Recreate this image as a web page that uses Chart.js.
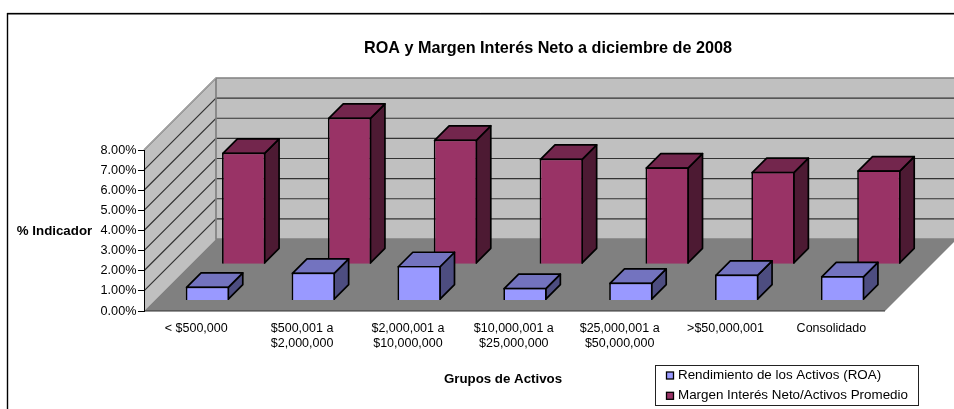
<!DOCTYPE html>
<html><head><meta charset="utf-8">
<style>html,body{margin:0;padding:0;background:#fff}canvas{display:block}</style>
<script src="https://cdn.jsdelivr.net/npm/chart.js@4/dist/chart.umd.min.js"></script>
</head><body><canvas id="c" width="954" height="409"></canvas>
<script>
const categories = [['< $500,000'], ['$500,001 a', '$2,000,000'], ['$2,000,001 a', '$10,000,000'], ['$10,000,001 a', '$25,000,000'], ['$25,000,001 a', '$50,000,000'], ['>$50,000,001'], ['Consolidado']];
const roa = [0.69, 1.39, 1.72, 0.63, 0.89, 1.29, 1.22];
const margen = [5.55, 7.29, 6.20, 5.25, 4.82, 4.59, 4.67];
const seriesNames = ['Rendimiento de los Activos (ROA)', 'Margen Interés Neto/Activos Promedio'];
const chartTitle = 'ROA y Margen Interés Neto a diciembre de 2008';
const yTitle = '% Indicador';
const xTitle = 'Grupos de Activos';

const FONT = '"Liberation Sans", Arial, sans-serif';
const SIZE = 12.5;
const WALL_DEPTH = 72;
const BAR_Z = [10.5, 46.8];
const BAR_DEPTH = 14.5;
const BAR_LINE = 1.7;
const COLORS = [
  {front:'#9999ff', top:'#7373bf', side:'#4d4d80'},
  {front:'#993366', top:'#73264d', side:'#4d1a33'}
];

function poly(ctx, pts, fill, stroke, lw){
  ctx.beginPath();
  pts.forEach((p,i)=> i?ctx.lineTo(p[0],p[1]):ctx.moveTo(p[0],p[1]));
  ctx.closePath();
  if(fill){ctx.fillStyle=fill;ctx.fill();}
  if(stroke){ctx.strokeStyle=stroke;ctx.lineWidth=lw||1;ctx.lineJoin='round';ctx.stroke();}
}
function text(ctx,str,x,y,font,align){
  ctx.font=font;ctx.fillStyle='#000';ctx.textAlign=align||'center';ctx.textBaseline='middle';ctx.fillText(str,x,y);
}

const scene3d = {
  id:'scene3d',
  afterDatasetsUpdate(chart){
    chart.data.datasets.forEach((ds,i)=>{
      chart.getDatasetMeta(i).data.forEach(el=>{
        el.x += BAR_Z[i]; el.y -= BAR_Z[i]; el.base -= BAR_Z[i];
      });
    });
  },
  beforeDraw(chart){
    const ctx=chart.ctx, a=chart.chartArea, d=WALL_DEPTH, y=chart.scales.y;
    ctx.save();
    poly(ctx,[[a.left+d,a.top-d],[a.right+d,a.top-d],[a.right+d,a.bottom-d],[a.left+d,a.bottom-d]],'#c0c0c0');
    poly(ctx,[[a.left,a.bottom],[a.left+d,a.bottom-d],[a.left+d,a.top-d],[a.left,a.top]],'#c0c0c0');
    y.ticks.forEach(t=>{
      const py=y.getPixelForValue(t.value);
      if(t.value===0) return;
      const atTop=t.value===y.max;
      ctx.strokeStyle=atTop?'#808080':'#333333';ctx.lineWidth=atTop?1.7:1.2;
      ctx.beginPath();ctx.moveTo(a.left,py);ctx.lineTo(a.left+d,py-d);ctx.lineTo(a.right+d,py-d);ctx.stroke();
    });
    poly(ctx,[[a.left,a.bottom],[a.right,a.bottom],[a.right+d,a.bottom-d],[a.left+d,a.bottom-d]],'#808080');
    ctx.strokeStyle='#808080';ctx.lineWidth=1.7;
    ctx.beginPath();ctx.moveTo(a.left+d,a.top-d);ctx.lineTo(a.left+d,a.bottom-d);ctx.lineTo(a.right+d,a.bottom-d);ctx.stroke();
    ctx.strokeStyle='#a0a0a0';ctx.lineWidth=1;
    ctx.beginPath();ctx.moveTo(a.left,a.top);ctx.lineTo(a.left+d,a.top-d);ctx.stroke();
    ctx.strokeStyle='#333333';ctx.lineWidth=1.2;
    ctx.beginPath();ctx.moveTo(a.left,a.bottom);ctx.lineTo(a.right,a.bottom);ctx.stroke();
    ctx.strokeStyle='#dcdcdc';ctx.lineWidth=1;
    ctx.beginPath();ctx.moveTo(7,12.5);ctx.lineTo(954,12.5);ctx.stroke();
    ctx.strokeStyle='#000';ctx.lineWidth=1.4;
    ctx.beginPath();ctx.moveTo(7.5,409);ctx.lineTo(7.5,13.7);ctx.lineTo(954,13.7);ctx.stroke();
    ctx.restore();
  },
  beforeDatasetDraw(chart,args){
    const ctx=chart.ctx, c=COLORS[args.index], z=BAR_DEPTH, h=BAR_LINE/2;
    ctx.save();
    args.meta.data.forEach(el=>{
      const l=el.x-el.width/2+h, r=el.x+el.width/2-h, t=el.y+h, b=el.base-h;
      poly(ctx,[[r,t],[r+z,t-z],[r+z,b-z],[r,b]],c.side,'#000',BAR_LINE);
      poly(ctx,[[l,t],[l+z,t-z],[r+z,t-z],[r,t]],c.top,'#000',BAR_LINE);
    });
    ctx.restore();
  },
  afterDraw(chart){
    const ctx=chart.ctx;
    ctx.save();
    text(ctx,chartTitle,548,48.5,'bold 16.2px '+FONT);
    text(ctx,yTitle,54.5,231,'bold 13.3px '+FONT);
    text(ctx,xTitle,503,379,'bold 13.3px '+FONT);
    ctx.fillStyle='#fff';ctx.strokeStyle='#222';ctx.lineWidth=1;
    ctx.fillRect(655.5,365.5,263,40);ctx.strokeRect(655.5,365.5,263,40);
    seriesNames.forEach((n,i)=>{
      const ly=375.5+i*20.3;
      ctx.fillStyle=COLORS[i].front;ctx.fillRect(666.5,ly-3.5,7,7);
      ctx.strokeStyle='#000';ctx.lineWidth=1.3;ctx.strokeRect(666.5,ly-3.5,7,7);
      text(ctx,n,678,ly,'13.4px '+FONT,'left');
    });
    ctx.restore();
  }
};

new Chart(document.getElementById('c'),{
  type:'bar',
  data:{labels:categories,datasets:[
    {label:seriesNames[0],data:roa},
    {label:seriesNames[1],data:margen}
  ].map((ds,i)=>Object.assign(ds,{
    backgroundColor:COLORS[i].front,borderColor:'#000',borderWidth:BAR_LINE,
    grouped:false,barPercentage:0.41,categoryPercentage:1,clip:false
  }))},
  options:{
    responsive:false,animation:false,events:[],
    layout:{padding:{left:0,top:150,right:69,bottom:0}},
    plugins:{legend:{display:false},title:{display:false},tooltip:{enabled:false}},
    scales:{
      x:{
        afterFit(s){s.height=98;},
        grid:{display:false},border:{display:false},
        ticks:{padding:2,labelOffset:-0.7,color:'#000',maxRotation:0,autoSkip:false,font:{family:FONT,size:SIZE,lineHeight:1.22}}
      },
      y:{
        min:0,max:8,
        afterFit(s){s.width=144;},
        grid:{drawOnChartArea:false,drawTicks:true,tickLength:6,color:'#000'},
        border:{color:'#000',width:1},
        ticks:{stepSize:1,padding:1.5,color:'#000',font:{family:FONT,size:12.7},callback:v=>v.toFixed(2)+'%'}
      }
    }
  },
  plugins:[scene3d]
});
</script></body></html>
